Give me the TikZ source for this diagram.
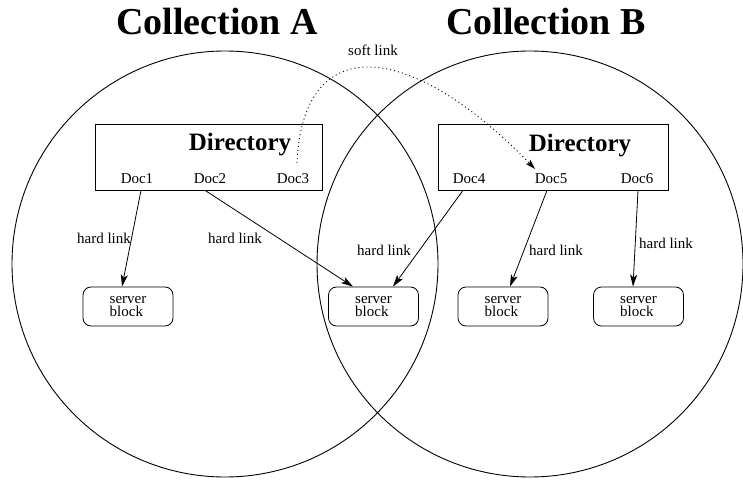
\documentclass[tikz,border=0pt]{standalone}
\usepackage{fontspec}
\setmainfont{Liberation Serif}
\usetikzlibrary{arrows.meta}
\begin{document}
\begin{tikzpicture}[x=1pt,y=-1pt,
  small/.style={font=\fontsize{15}{13.5}\selectfont},
  title/.style={font=\fontsize{38}{40}\selectfont\bfseries, anchor=base, inner sep=0},
  dirbox/.style={draw, line width=0.9pt, minimum height=66pt, inner sep=0},
  dirtitle/.style={font=\fontsize{25}{28}\selectfont\bfseries, anchor=base, inner sep=0},
  doc/.style={small, anchor=base, inner xsep=0pt, inner ysep=6pt},
  block/.style={draw, rounded corners=8pt, minimum width=90pt, minimum height=39pt, align=left, small, inner sep=0, line width=0.8pt},
  lbl/.style={small, inner sep=0},
  hl/.style={-{Stealth[length=12pt,width=7pt,inset=3pt]}, line width=0.8pt},
  soft/.style={dash pattern=on 1pt off 3pt, line width=0.9pt, -{Stealth[length=10pt,width=6pt,inset=2pt]}},
  coll/.style={draw, circle, minimum size=426pt, inner sep=0, line width=0.9pt}
]
\useasboundingbox (0,0) rectangle (743,486);
% collections
\node[coll] (cA) at (225,264) {};
\node[coll] (cB) at (530,264) {};
\node[title] (tA) at (217,35) {Collection A};
\node[title] (tB) at (546,35) {Collection B};
% directories
\node[dirbox, minimum width=227pt] (dirA) at (208.5,157) {};
\node[dirbox, minimum width=230pt] (dirB) at (553,157.5) {};
\node[dirtitle] (dtA) at (240,151) {Directory};
\node[dirtitle] (dtB) at (580,152) {Directory};
% documents
\node[doc] (d1) at (137,184) {Doc1};
\node[doc] (d2) at (210,184) {Doc2};
\node[doc] (d3) at (293,184) {Doc3};
\node[doc] (d4) at (469,184) {Doc4};
\node[doc] (d5) at (551,184) {Doc5};
\node[doc] (d6) at (637,184) {Doc6};
% server blocks
\node[block] (sb1) at (128,306.5) {server\\block};
\node[block] (sb2) at (373.5,306.5) {server\\block};
\node[block] (sb3) at (503,306.5) {server\\block};
\node[block] (sb4) at (638.5,306.5) {server\\block};
% hard links
\draw[hl] ([xshift=4pt]d1.south) -- ([xshift=-6pt]sb1.north);
\draw[hl] ([xshift=-5pt]d2.south) -- ([xshift=-20.5pt]sb2.north);
\draw[hl] ([xshift=-6pt]d4.south) -- ([xshift=19.5pt]sb2.north);
\draw[hl] ([xshift=-4pt]d5.south) -- ([xshift=7pt]sb3.north);
\draw[hl] ([xshift=1pt]d6.south) -- ([xshift=-5.5pt]sb4.north);
\node[lbl] (l1) at (104,238) {hard link};
\node[lbl] (l2) at (235,238) {hard link};
\node[lbl] (l3) at (384,250) {hard link};
\node[lbl] (l4) at (556,250) {hard link};
\node[lbl] (l5) at (666,243) {hard link};
% soft link
\draw[soft] ([xshift=4pt,yshift=5pt]d3.north) .. controls (303,30) and (410,40) .. ([xshift=-16pt,yshift=-1pt]d5.north);
\node[lbl] (ls) at (373,50) {soft link};
\end{tikzpicture}
\end{document}
